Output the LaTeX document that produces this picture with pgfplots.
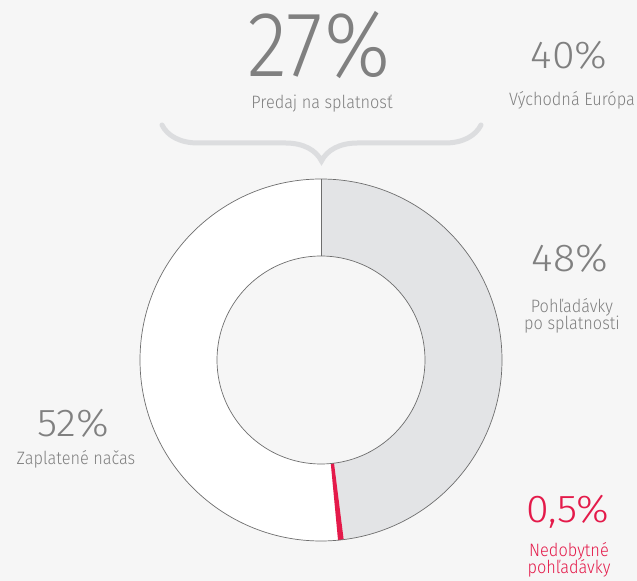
\documentclass[border=0pt]{standalone}
\usepackage{fontspec}
\setmainfont{Fira Sans Light}[FakeStretch=0.91]
\newfontfamily\bignumfont{Fira Sans Light}[FakeStretch=0.9]
\newfontfamily\numfont{Fira Sans Light}[FakeStretch=1.06]
\usepackage{pgfplots}
\pgfplotsset{compat=1.18}
\usepackage{pgfplotstable}
\usetikzlibrary{decorations.pathreplacing}
\definecolor{bg}{RGB}{246,246,246}
\definecolor{txt}{RGB}{128,128,128}
\definecolor{segA}{RGB}{227,228,230}
\definecolor{segR}{RGB}{228,26,74}
\definecolor{edge}{RGB}{110,110,110}
\definecolor{bracec}{RGB}{220,221,223}

\pgfplotstableread{
seg value
overdue 48
bad 0.5
ontime 51.5
}\donut

\newcommand\donutseg[4]{%
  \path[fill=#3,#4] (axis cs:{321+181*cos(#1)},{221+181*sin(#1)})
    arc[start angle=#1,end angle=#2,radius=181]
    -- (axis cs:{321+104*cos(#2)},{221+104*sin(#2)})
    arc[start angle=#2,end angle=#1,radius=104] -- cycle;}

\begin{document}
\begin{tikzpicture}
\pgfplotstablegetelem{0}{value}\of\donut \let\vA\pgfplotsretval
\pgfplotstablegetelem{1}{value}\of\donut \let\vB\pgfplotsretval
\pgfmathsetmacro\aA{90-3.6*\vA}
\pgfmathsetmacro\aB{\aA-3.6*\vB}
\begin{axis}[width=637bp,height=581bp,scale only axis,
  xmin=0,xmax=637,ymin=0,ymax=581,axis lines=none,clip=false,
  disabledatascaling,anchor=south west,at={(0,0)}]
\fill[bg] (axis cs:0,0) rectangle (axis cs:637,581);
\donutseg{\aB}{-270}{white}{}
\donutseg{90}{\aA}{segA}{}
\donutseg{\aA}{\aB}{segR}{}
\draw[edge,line width=0.7bp] (axis cs:321,221) circle[radius=181];
\draw[edge,line width=0.7bp] (axis cs:321,221) circle[radius=104];
\draw[edge,line width=0.7bp] (axis cs:321,325) -- (axis cs:321,402);
\draw[bracec,line width=5bp,line cap=round,decorate,
  decoration={brace,amplitude=36bp,mirror,aspect=0.5}] (axis cs:162,456) -- (axis cs:481,456);
% texts
\node[anchor=base,txt,inner sep=0pt,text depth=0pt] at (axis cs:319,504) {\fontsize{93}{93}\bignumfont 27\%};
\node[anchor=base,txt,inner sep=0pt,text height=12bp] at (axis cs:322,472) {\fontsize{18}{18}\selectfont Predaj na splatnosť};
\node[anchor=base,txt,inner sep=0pt] at (axis cs:569,512) {\fontsize{39}{39}\numfont 40\%};
\node[anchor=base,txt,inner sep=0pt] at (axis cs:572,475) {\fontsize{18}{18}\selectfont Východná Európa};
\node[anchor=base,txt,inner sep=0pt] at (axis cs:570,309) {\fontsize{39}{39}\numfont 48\%};
\node[anchor=base,txt,inner sep=0pt] at (axis cs:572,268) {\fontsize{18}{18}\selectfont Pohľadávky};
\node[anchor=base,txt,inner sep=0pt] at (axis cs:572,251) {\fontsize{18}{18}\selectfont po splatnosti};
\node[anchor=base,txt,inner sep=0pt] at (axis cs:73,144) {\fontsize{39}{39}\numfont 52\%};
\node[anchor=base,txt,inner sep=0pt] at (axis cs:76,116) {\fontsize{18}{18}\selectfont Zaplatené načas};
\node[anchor=base,segR,inner sep=0pt] at (axis cs:568,58) {\fontsize{39}{39}\numfont 0,5\%};
\node[anchor=base,segR,inner sep=0pt] at (axis cs:569,25) {\fontsize{18}{18}\selectfont Nedobytné};
\node[anchor=base,segR,inner sep=0pt] at (axis cs:569,8) {\fontsize{18}{18}\selectfont pohľadávky};
\end{axis}
\pgfresetboundingbox
\path[use as bounding box] (current axis.south west) rectangle (current axis.north east);
\end{tikzpicture}
\end{document}
